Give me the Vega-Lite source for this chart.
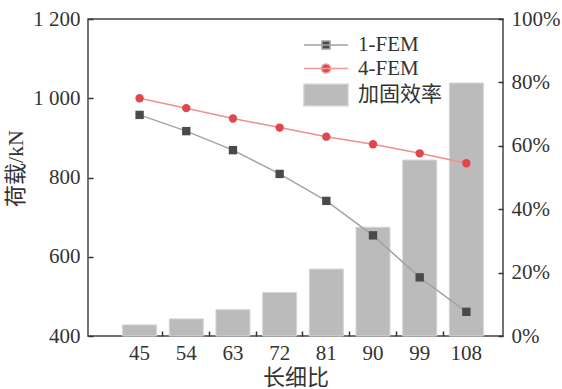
{
  "$schema": "https://vega.github.io/schema/vega-lite/v6.json",
  "width": 415,
  "height": 317,
  "autosize": {"type": "none"},
  "padding": {"left": 88, "top": 19, "right": 59, "bottom": 53},
  "config": {
    "view": {"stroke": "#444", "strokeWidth": 1.5},
    "font": "Liberation Serif, Noto Sans CJK SC",
    "axis": {
      "domain": false,
      "grid": false,
      "labelFont": "Liberation Serif, Noto Sans CJK SC",
      "labelFontSize": 21,
      "labelColor": "#333",
      "titleFont": "Liberation Serif, Noto Sans CJK SC",
      "titleFontSize": 22,
      "titleFontWeight": "normal",
      "titleColor": "#333",
      "tickColor": "#333",
      "tickWidth": 1.5,
      "tickSize": 5
    }
  },
  "data": {
    "values": [
      {"ratio": 45, "series": "1-FEM", "value": 958},
      {"ratio": 54, "series": "1-FEM", "value": 917},
      {"ratio": 63, "series": "1-FEM", "value": 869},
      {"ratio": 72, "series": "1-FEM", "value": 809},
      {"ratio": 81, "series": "1-FEM", "value": 741},
      {"ratio": 90, "series": "1-FEM", "value": 654},
      {"ratio": 99, "series": "1-FEM", "value": 548},
      {"ratio": 108, "series": "1-FEM", "value": 461},
      {"ratio": 45, "series": "4-FEM", "value": 1000},
      {"ratio": 54, "series": "4-FEM", "value": 975},
      {"ratio": 63, "series": "4-FEM", "value": 949},
      {"ratio": 72, "series": "4-FEM", "value": 926},
      {"ratio": 81, "series": "4-FEM", "value": 903},
      {"ratio": 90, "series": "4-FEM", "value": 884},
      {"ratio": 99, "series": "4-FEM", "value": 861},
      {"ratio": 108, "series": "4-FEM", "value": 836},
      {"ratio": 45, "series": "加固效率", "value": 0.035},
      {"ratio": 54, "series": "加固效率", "value": 0.054},
      {"ratio": 63, "series": "加固效率", "value": 0.083},
      {"ratio": 72, "series": "加固效率", "value": 0.137},
      {"ratio": 81, "series": "加固效率", "value": 0.211},
      {"ratio": 90, "series": "加固效率", "value": 0.343},
      {"ratio": 99, "series": "加固效率", "value": 0.555},
      {"ratio": 108, "series": "加固效率", "value": 0.798}
    ]
  },
  "encoding": {
    "x": {
      "field": "ratio",
      "type": "ordinal",
      "scale": {"paddingInner": 0, "paddingOuter": 0.445, "align": 0.68}
    }
  },
  "layer": [
    {
      "transform": [{"filter": "datum.series === '加固效率'"}],
      "mark": {"type": "bar", "width": {"band": 0.728}, "stroke": "#d4d4d4", "strokeWidth": 1},
      "encoding": {
        "x": {
          "field": "ratio",
          "type": "ordinal",
          "axis": {"orient": "bottom", "title": "长细比", "ticks": false, "labelAngle": 0, "labelPadding": 6, "titlePadding": 4}
        },
        "y": {
          "field": "value",
          "type": "quantitative",
          "scale": {"domain": [0, 1], "nice": false},
          "axis": {"orient": "right", "offset": -5, "values": [0, 0.2, 0.4, 0.6, 0.8, 1], "format": ".0%", "title": null, "labelPadding": 8}
        },
        "color": {
          "field": "series",
          "type": "nominal",
          "scale": {"domain": ["1-FEM", "4-FEM", "加固效率"], "range": ["#4a4a4a", "#e0474c", "#bbbbbb"]},
          "legend": {
            "title": null,
            "orient": "none",
            "legendX": 227,
            "legendY": 15,
            "padding": 0,
            "symbolSize": 400,
            "symbolStrokeWidth": 1.5,
            "symbolOpacity": 1,
            "symbolType": {"expr": "datum.value === '1-FEM' ? 'M-2.2,0H2.2M-0.4,-0.4H0.4V0.4H-0.4Z' : (datum.value === '4-FEM' ? 'M-2.2,0H2.2M-0.45,0A0.45,0.45,0,1,0,0.45,0A0.45,0.45,0,1,0,-0.45,0Z' : 'M-2.2,-1.08H2.2V1.08H-2.2Z')"},
            "symbolStrokeColor": {"expr": "datum.value === '1-FEM' ? '#a3a3a3' : (datum.value === '4-FEM' ? '#ef9a9a' : '#cfcfcf')"},
            "symbolFillColor": {"expr": "scale('color', datum.value)"},
            "labelFont": "Liberation Serif, Noto Sans CJK SC",
            "labelFontSize": 21,
            "labelColor": "#333",
            "labelOffset": 21,
            "rowPadding": 2.5
          }
        }
      }
    },
    {
      "transform": [{"filter": "datum.series === '1-FEM'"}],
      "mark": {"type": "line", "strokeWidth": 1.5, "color": "#a3a3a3"},
      "encoding": {
        "x": {"field": "ratio", "type": "ordinal", "axis": null},
        "y": {"field": "value", "type": "quantitative", "scale": {"domain": [400, 1200], "nice": false}, "axis": null}
      }
    },
    {
      "transform": [{"filter": "datum.series === '4-FEM'"}],
      "mark": {"type": "line", "strokeWidth": 1.5, "color": "#ef8f8f"},
      "encoding": {
        "x": {"field": "ratio", "type": "ordinal", "axis": null},
        "y": {"field": "value", "type": "quantitative", "scale": {"domain": [400, 1200], "nice": false}, "axis": null}
      }
    },
    {
      "transform": [{"filter": "datum.series !== '加固效率'"}],
      "mark": {"type": "point", "filled": true, "size": 70, "opacity": 1},
      "encoding": {
        "x": {
          "field": "ratio",
          "type": "ordinal",
          "axis": {"orient": "bottom", "offset": -5, "title": null, "labels": false, "bandPosition": 0, "values": [54, 63, 72, 81, 90, 99, 108]}
        },
        "y": {
          "field": "value",
          "type": "quantitative",
          "scale": {"domain": [400, 1200], "nice": false},
          "axis": {
            "orient": "left",
            "offset": -5,
            "values": [400, 600, 800, 1000, 1200],
            "labelExpr": "replace(format(datum.value, ','), ',', ' ')",
            "title": "荷载/kN",
            "titleX": -66,
            "titleY": 149,
            "titleAngle": -90,
            "titleBaseline": "bottom",
            "titleAlign": "center",
            "labelPadding": 8
          }
        },
        "color": {"field": "series", "type": "nominal"},
        "shape": {
          "field": "series",
          "type": "nominal",
          "scale": {"domain": ["1-FEM", "4-FEM"], "range": ["square", "circle"]},
          "legend": null
        }
      }
    }
  ],
  "resolve": {"scale": {"y": "independent"}, "axis": {"x": "independent"}}
}
